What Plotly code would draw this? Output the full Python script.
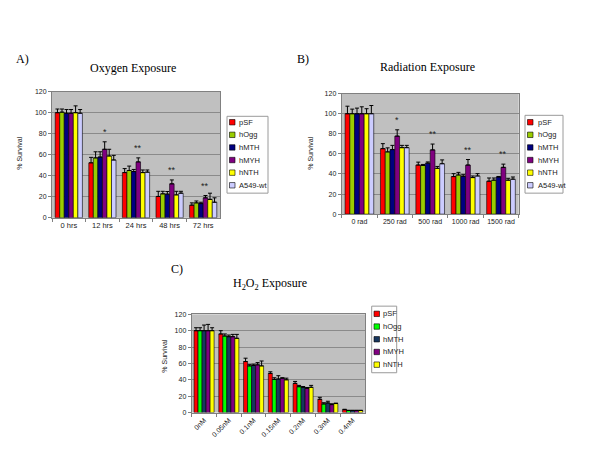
import plotly.graph_objects as go

# ---------------- data ----------------
series_ab = ["pSF", "hOgg", "hMTH", "hMYH", "hNTH", "A549-wt"]
series_c = ["pSF", "hOgg", "hMTH", "hMYH", "hNTH"]

oxygen_cats = ["0 hrs", "12 hrs", "24 hrs", "48 hrs", "72 hrs"]
oxygen_vals = [
    [100, 52.3, 43.0, 20.3, 12.0],
    [100.5, 57.0, 45.0, 22.8, 14.2],
    [99.5, 57.8, 44.0, 22.5, 13.5],
    [99.5, 65.2, 53.2, 32.3, 19.0],
    [100, 58.8, 43.0, 21.8, 17.5],
    [99.5, 55.0, 43.4, 23.4, 14.8],
]
oxygen_err = [
    [3.5, 5.2, 3.8, 4.9, 2.2],
    [3.0, 5.8, 4.2, 2.4, 1.8],
    [3.5, 5.0, 2.0, 2.5, 1.3],
    [3.5, 7.1, 3.8, 3.7, 2.2],
    [6.5, 6.4, 2.5, 3.4, 5.9],
    [3.5, 4.4, 2.1, 1.8, 4.2],
]
oxygen_sig = ["", "*", "**", "**", "**"]

radiation_cats = ["0 rad", "250 rad", "500 rad", "1000 rad", "1500 rad"]
radiation_vals = [
    [100, 65.2, 48.9, 37.4, 32.8],
    [100, 62.0, 48.5, 39.0, 33.8],
    [100, 64.3, 50.8, 37.7, 37.0],
    [100, 77.7, 64.0, 48.9, 46.6],
    [100, 66.2, 45.6, 36.4, 33.8],
    [100, 66.2, 50.2, 38.0, 34.8],
]
radiation_err = [
    [7.5, 5.0, 2.9, 2.9, 3.2],
    [4.6, 4.0, 1.0, 2.6, 2.2],
    [5.6, 4.2, 1.2, 1.6, 0.5],
    [6.9, 6.3, 5.8, 5.5, 3.2],
    [5.0, 2.3, 1.9, 1.6, 1.9],
    [8.2, 2.3, 3.8, 2.3, 2.2],
]
radiation_sig = ["", "*", "**", "**", "**"]

h2o2_cats = ["0nM", "0.05nM", "0.1nM", "0.15nM", "0.2nM", "0.3nM", "0.4nM"]
h2o2_vals = [
    [100, 96.0, 62.3, 47.8, 35.6, 16.2, 3.5],
    [100, 93.5, 57.0, 40.5, 31.6, 10.5, 2.5],
    [100, 92.7, 57.5, 41.0, 30.8, 11.7, 2.5],
    [100, 92.7, 58.3, 42.0, 29.6, 9.7, 2.5],
    [100, 90.7, 57.0, 40.0, 30.8, 11.0, 2.5],
]
h2o2_err = [
    [3.6, 4.0, 4.1, 2.0, 2.4, 2.4, 0.5],
    [3.6, 2.5, 1.5, 2.0, 1.6, 1.5, 0.3],
    [6.9, 2.0, 1.5, 4.0, 1.0, 2.1, 0.3],
    [7.7, 2.8, 2.7, 0.5, 1.0, 1.0, 0.3],
    [3.6, 4.8, 6.0, 2.0, 2.4, 0.5, 0.3],
]

colors_ab = ["#FF0000", "#99CC00", "#000080", "#800080", "#FFFF00", "#CCCCFF"]
colors_c = ["#FF0000", "#00FF00", "#17375E", "#800080", "#FFFF00"]

# ---------------- figure ----------------
W, H = 600, 472
SANS = "Liberation Sans, Arial, sans-serif"
SERIF = "Liberation Serif, Times New Roman, serif"
BARGAP = 0.19


def px(x):
    return x / W


def py(y):
    return 1 - y / H


fig = go.Figure()

panels = [
    dict(cats=oxygen_cats, names=series_ab, vals=oxygen_vals, errs=oxygen_err,
         colors=colors_ab, xa="x", ya="y", sig=oxygen_sig),
    dict(cats=radiation_cats, names=series_ab, vals=radiation_vals, errs=radiation_err,
         colors=colors_ab, xa="x2", ya="y2", sig=radiation_sig),
    dict(cats=h2o2_cats, names=series_c, vals=h2o2_vals, errs=h2o2_err,
         colors=colors_c, xa="x3", ya="y3", sig=None),
]

annotations = []
shapes = []

for p in panels:
    n = len(p["cats"])
    for j, name in enumerate(p["names"]):
        fig.add_trace(go.Bar(
            x=p["cats"], y=p["vals"][j], name=name,
            marker=dict(color=p["colors"][j], line=dict(color="black", width=0.6)),
            error_y=dict(type="data", array=p["errs"][j], arrayminus=[0] * n,
                         symmetric=False, color="black", thickness=1, width=2),
            xaxis=p["xa"], yaxis=p["ya"], showlegend=False,
        ))
    if p["sig"]:
        k = len(p["names"])
        idx = p["names"].index("hMYH")
        off = (idx - (k - 1) / 2) * (1 - BARGAP) / k
        for i, s in enumerate(p["sig"]):
            if s:
                top = p["vals"][idx][i] + p["errs"][idx][i]
                annotations.append(dict(
                    x=i + off, y=top, xref=p["xa"], yref=p["ya"], text=s,
                    showarrow=False, yanchor="bottom", yshift=3,
                    font=dict(family=SANS, size=9, color="#222")))

axis_common = dict(
    showline=True, linecolor="#808080", linewidth=1, mirror=True,
    tickfont=dict(family=SANS, size=7, color="#222"), zeroline=False,
)

layout_axes = {}
domains = [
    ((52, 220), (89, 217)),
    ((341.7, 518.7), (91, 213.3)),
    ((191.7, 365), (315, 414.7)),
]
for k, ((x0, x1), (y0, y1)) in enumerate(domains):
    sx = "" if k == 0 else str(k + 1)
    xa = dict(axis_common, domain=[px(x0), px(x1)], anchor="y" + sx,
              type="category", ticks="outside", tickson="boundaries", ticklen=3,
              tickcolor="#808080", showgrid=False,
              tickfont=dict(family=SANS, size=7.5 if k == 0 else 7, color="#222"))
    xa["tickangle"] = -45 if k == 2 else 0
    ya = dict(axis_common, domain=[py(y1), py(y0)], anchor="x" + sx,
              range=[0, 120], dtick=20, ticks="outside", ticklen=3, tickcolor="#808080",
              showgrid=True, gridcolor="#8a8a8a", gridwidth=1)
    layout_axes["xaxis" + sx] = xa
    layout_axes["yaxis" + sx] = ya

# titles and labels
text_items = [
    ("A)", 22, 56, SERIF, 12),
    ("Oxygen Exposure", 133, 65, SERIF, 12),
    ("B)", 303, 56, SERIF, 12),
    ("Radiation Exposure", 427, 64, SERIF, 12),
    ("C)", 177, 269, SERIF, 12),
    ("H<sub>2</sub>O<sub>2</sub> Exposure", 270, 284, SERIF, 12),
]
for t, x, y, fam, sz in text_items:
    annotations.append(dict(x=px(x), y=py(y), xref="paper", yref="paper", text=t,
                            showarrow=False, xanchor="center", yanchor="middle",
                            font=dict(family=fam, size=sz, color="black")))

for x, y in [(20, 151), (311, 151), (165, 357)]:
    annotations.append(dict(x=px(x), y=py(y), xref="paper", yref="paper",
                            text="% Survival", textangle=-90, showarrow=False,
                            xanchor="center", yanchor="middle",
                            font=dict(family=SANS, size=7, color="#222")))

# legends (drawn boxes)
legends = [
    dict(box=(227, 114, 268, 192), first=120, step=12.8, sw=229.5, tx=237,
         names=series_ab, colors=colors_ab),
    dict(box=(525, 113, 563, 192), first=120, step=12.8, sw=527.5, tx=536,
         names=series_ab, colors=colors_ab),
    dict(box=(371.7, 306.7, 396.7, 374.3), first=314.5, step=12.9, sw=374, tx=381,
         names=series_c, colors=colors_c),
]
for lg in legends:
    bx0, by0, bx1, by1 = lg["box"]
    shapes.append(dict(type="rect", xref="paper", yref="paper",
                       x0=px(bx0), x1=px(bx1), y0=py(by1), y1=py(by0),
                       line=dict(color="#9a9a9a", width=1), fillcolor="white"))
    for i, (nm, c) in enumerate(zip(lg["names"], lg["colors"])):
        yc = lg["first"] + i * lg["step"]
        shapes.append(dict(type="rect", xref="paper", yref="paper",
                           x0=px(lg["sw"]), x1=px(lg["sw"] + 5.5),
                           y0=py(yc + 2.75), y1=py(yc - 2.75),
                           line=dict(color="black", width=0.6), fillcolor=c))
        annotations.append(dict(x=px(lg["tx"]), y=py(yc), xref="paper", yref="paper",
                                text=nm, showarrow=False, xanchor="left", yanchor="middle",
                                font=dict(family=SANS, size=7.5, color="#222")))

fig.update_layout(
    width=W, height=H, margin=dict(l=0, r=0, t=0, b=0),
    paper_bgcolor="white", plot_bgcolor="#C0C0C0",
    barmode="group", bargap=BARGAP, bargroupgap=0,
    showlegend=False, annotations=annotations, shapes=shapes,
    **layout_axes,
)

fig.write_html("out.html", config={"displayModeBar": False},
               post_script="document.body.style.margin='0';document.body.style.padding='0';")
